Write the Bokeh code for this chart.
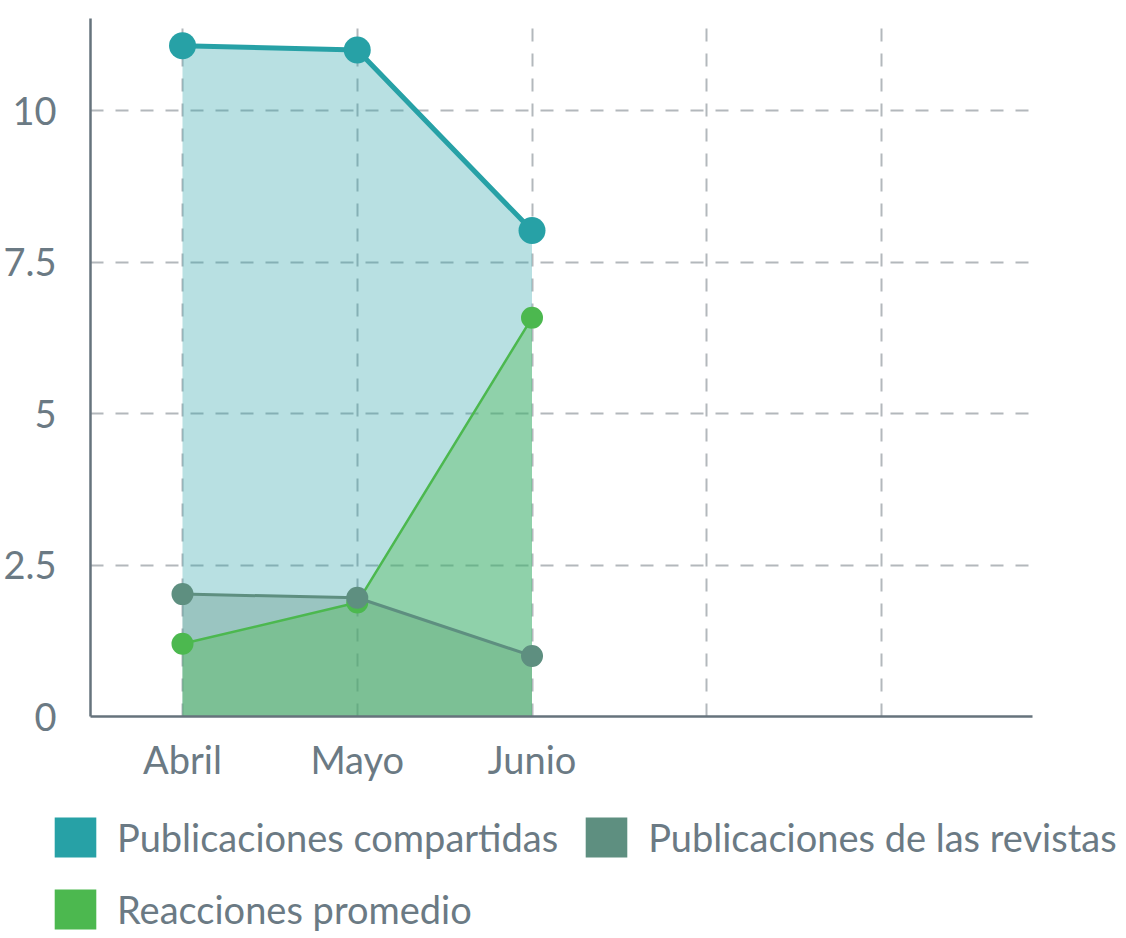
from bokeh.plotting import figure
from bokeh.models import FixedTicker, Legend, LegendItem, Range1d
from bokeh.layouts import column
from bokeh.embed import file_html
from bokeh.resources import INLINE

# ---- data ----
months = ["Abril", "Mayo", "Junio", "", ""]
month_pos = [0, 1, 2, 3, 4]
x_data = [0, 1, 2]
compartidas = [11.07, 11.0, 8.02]
revistas = [2.02, 1.96, 1.0]
reacciones = [1.2, 1.88, 6.58]
y_ticks = [0, 2.5, 5, 7.5, 10]
y_tick_labels = ["0", "2.5", "5", "7.5", "10"]
series_names = ["Publicaciones compartidas", "Publicaciones de las revistas", "Reacciones promedio"]

# ---- styles ----
TEAL = "#27a1a6"
GRAYGREEN = "#5e8f80"
GREEN = "#4cb84f"
TEXT = "#6b7a84"
AXIS = "#66737c"
GRID = "#b3b8bc"
FONT = "Lato"
FS = "38px"
W = 1124

x_start, x_end = -0.5265, 4.864
p = figure(frame_width=942, frame_height=698,
           x_range=Range1d(x_start, x_end), y_range=Range1d(0, 11.52),
           output_backend="svg", toolbar_location=None,
           min_border_left=88, min_border_right=94, min_border_top=18, min_border_bottom=0)
p.outline_line_color = None
p.background_fill_color = "white"

# axes
p.xaxis.ticker = FixedTicker(ticks=month_pos)
p.xaxis.major_label_overrides = {k: v for k, v in zip(month_pos, months)}
p.xaxis.major_label_standoff = 13
p.yaxis.ticker = FixedTicker(ticks=y_ticks)
p.yaxis.major_label_overrides = {k: v for k, v in zip(y_ticks, y_tick_labels)}
p.yaxis.major_label_standoff = 28
for ax in p.axis:
    ax.axis_line_color = AXIS
    ax.axis_line_width = 2.5
    ax.major_tick_line_color = None
    ax.minor_tick_line_color = None
    ax.major_label_text_color = TEXT
    ax.major_label_text_font = FONT
    ax.major_label_text_font_size = FS

# grid
p.xgrid.ticker = FixedTicker(ticks=month_pos)
p.ygrid.ticker = FixedTicker(ticks=y_ticks)
for g in (p.xgrid, p.ygrid):
    g.grid_line_color = GRID
    g.grid_line_width = 2
    g.grid_line_dash = "13 12"

# areas
p.varea(x=x_data, y1=[0, 0, 0], y2=compartidas, fill_color=TEAL, fill_alpha=0.33)
p.varea(x=x_data, y1=[0, 0, 0], y2=revistas, fill_color=GRAYGREEN, fill_alpha=0.33)
p.varea(x=x_data, y1=[0, 0, 0], y2=reacciones, fill_color=GREEN, fill_alpha=0.38)

# lines & markers
p.line(x_data, reacciones, line_color=GREEN, line_width=2.5)
p.scatter(x_data, reacciones, size=22, fill_color=GREEN, line_color=None)
p.line(x_data, revistas, line_color=GRAYGREEN, line_width=3)
p.scatter(x_data, revistas, size=22, fill_color=GRAYGREEN, line_color=None)
p.line(x_data, compartidas, line_color=TEAL, line_width=5)
p.scatter(x_data, compartidas, size=27, fill_color=TEAL, line_color=None)

# ---- legend strip (separate figure below the chart) ----
can_unalign = "frame_align" in p.properties()

pl = figure(width=W, height=150, x_range=Range1d(0, 1), y_range=Range1d(0, 1),
            x_axis_type=None, y_axis_type=None,
            output_backend="svg", toolbar_location=None,
            min_border_left=49, min_border_top=28, min_border_right=0, min_border_bottom=0)
pl.outline_line_color = None
pl.grid.visible = False

if can_unalign:
    p.frame_align = False
    pl.frame_align = False
    leg_style = dict(glyph_width=52, glyph_height=50, label_standoff=16, spacing=22,
                     label_text_font_size=FS)
else:
    leg_style = dict(glyph_width=48, glyph_height=48, label_standoff=10, spacing=14,
                     label_text_font_size="33px")

proxies = []
for c, ys in ((TEAL, compartidas), (GRAYGREEN, revistas), (GREEN, reacciones)):
    proxies.append(pl.vbar(x=x_data, top=ys, width=0.1, fill_color=c, line_color=None, visible=False))

legend = Legend(items=[LegendItem(label=n, renderers=[r]) for n, r in zip(series_names, proxies)],
                orientation="horizontal", ncols=2, location="top_left",
                padding=0, margin=0, border_line_color=None, background_fill_alpha=0,
                inactive_fill_alpha=0,
                label_text_font=FONT, label_text_color=TEXT, **leg_style)
pl.add_layout(legend)

layout = column(p, pl, spacing=0)
open("out.html", "w").write(file_html(layout, INLINE))
